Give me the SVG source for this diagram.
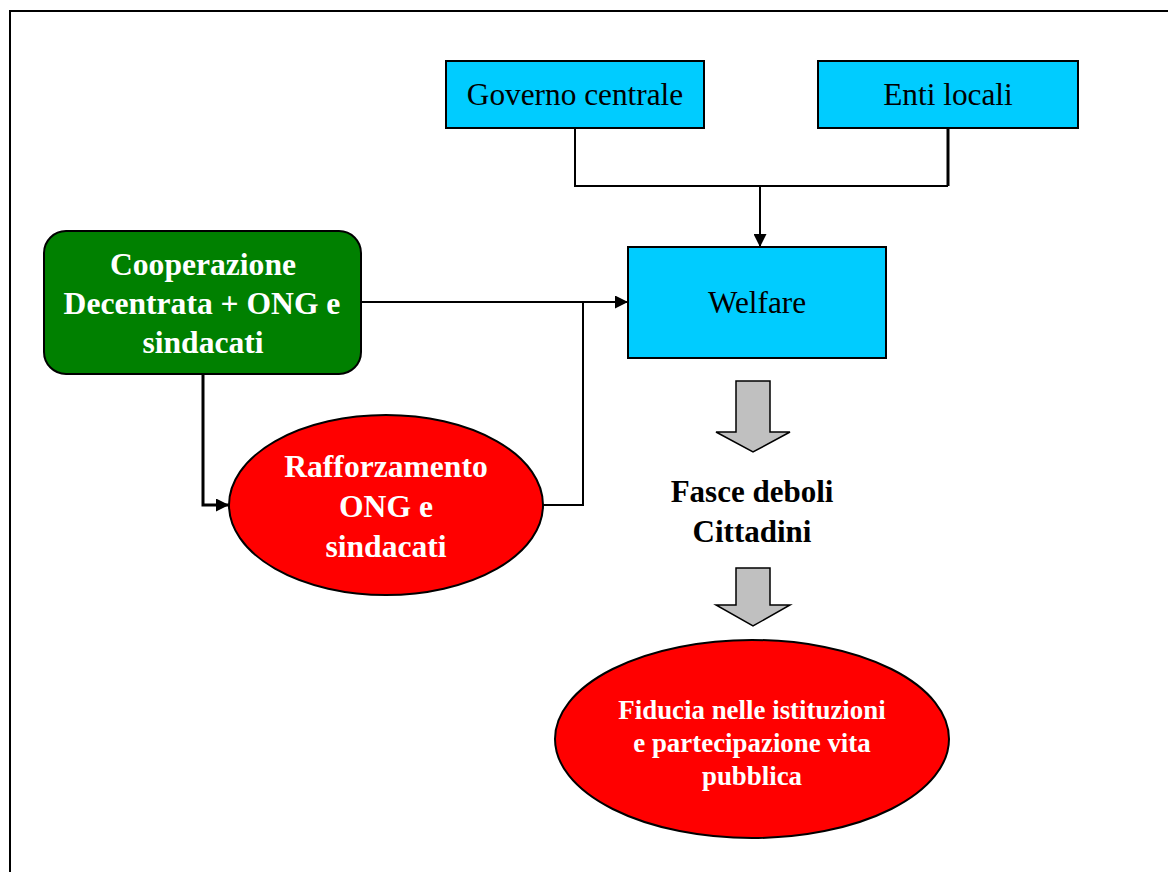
<svg xmlns="http://www.w3.org/2000/svg" width="1168" height="872" viewBox="0 0 1168 872">
<style>
.t{font-family:"Liberation Serif","Times New Roman",serif;text-anchor:middle}
.reg{font-size:31.3px;fill:#000}
.bw{font-size:31.6px;font-weight:bold;fill:#fff}
.bb{font-size:31px;font-weight:bold;fill:#000}
.sw{font-size:26.9px;font-weight:bold;fill:#fff}
.box{fill:#00ccff;stroke:#000;stroke-width:2}
.red{fill:#ff0000;stroke:#000;stroke-width:2}
.ln{fill:none;stroke:#000;stroke-width:2}
.blk{fill:#c0c0c0;stroke:#000;stroke-width:1.5}
</style>
<defs>
<marker id="ah" markerWidth="13" markerHeight="13" refX="13" refY="6.5" orient="auto" markerUnits="userSpaceOnUse">
<path d="M0,0 L13,6.5 L0,13 Z" fill="#000"/>
</marker>
</defs>
<rect width="1168" height="872" fill="#fff"/>
<path d="M10,872 V11 H1168" fill="none" stroke="#000" stroke-width="2"/>

<g id="connectors">
<path class="ln" d="M575,128 V186 H948"/>
<path d="M948,128 V186" fill="none" stroke="#000" stroke-width="3"/>
<path class="ln" d="M760,186 V247" marker-end="url(#ah)"/>
<path class="ln" d="M361,302 H628" marker-end="url(#ah)"/>
<path d="M203,374 V505 H229" fill="none" stroke="#000" stroke-width="3" marker-end="url(#ah)"/>
<path class="ln" d="M543,505 H583 V302"/>
<path class="blk" d="M736,381 H770 V432 H790 L753,452 L716,432 H736 Z"/>
<path class="blk" d="M736,568 H770 V605 H790 L753,626 L716,605 H736 Z"/>
</g>

<g id="governo">
<rect class="box" x="446" y="61" width="258" height="67"/>
<text class="t reg" x="575" y="105">Governo centrale</text>
</g>
<g id="enti">
<rect class="box" x="818" y="61" width="260" height="67"/>
<text class="t reg" x="948" y="105">Enti locali</text>
</g>
<g id="welfare">
<rect class="box" x="628" y="247" width="258" height="111"/>
<text class="t reg" x="757" y="313">Welfare</text>
</g>
<g id="cooperazione">
<rect x="44" y="231" width="317" height="143" rx="22" fill="#008000" stroke="#000" stroke-width="2"/>
<text class="t bw" x="203" y="275">Cooperazione</text>
<text class="t bw" x="202" y="314">Decentrata + ONG e</text>
<text class="t bw" x="203" y="353">sindacati</text>
</g>
<g id="rafforzamento">
<ellipse class="red" cx="386" cy="505" rx="157" ry="90"/>
<text class="t bw" x="386" y="477">Rafforzamento</text>
<text class="t bw" x="386" y="517">ONG e</text>
<text class="t bw" x="386" y="557">sindacati</text>
</g>
<g id="fasce">
<text class="t bb" x="752" y="502">Fasce deboli</text>
<text class="t bb" x="752" y="542">Cittadini</text>
</g>
<g id="fiducia">
<ellipse class="red" cx="752" cy="739" rx="197" ry="99"/>
<text class="t sw" x="752" y="719">Fiducia nelle istituzioni</text>
<text class="t sw" x="752" y="752">e partecipazione vita</text>
<text class="t sw" x="752" y="785">pubblica</text>
</g>
</svg>
